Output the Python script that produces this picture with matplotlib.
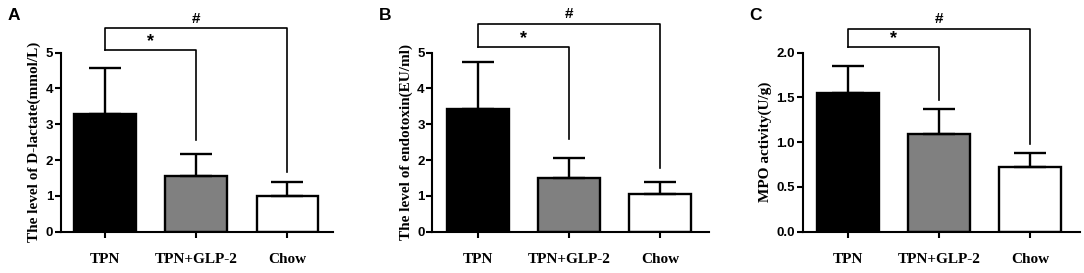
import numpy as np
import matplotlib
matplotlib.use("Agg")
import matplotlib.pyplot as plt

groups = ["TPN", "TPN+GLP-2", "Chow"]
bar_colors = ["black", "#808080", "white"]

# panel A: D-lactate
lactate_mean = [3.28, 1.56, 0.99]
lactate_err = [1.29, 0.60, 0.39]
# panel B: endotoxin
endotoxin_mean = [3.43, 1.49, 1.06]
endotoxin_err = [1.31, 0.58, 0.33]
# panel C: MPO activity
mpo_mean = [1.546, 1.09, 0.726]
mpo_err = [0.30, 0.28, 0.15]

# bracket levels: (hash level, star level, star drop, hash drop)
lactate_brk = [5.67, 5.07, 2.56, 1.67]
endotoxin_brk = [5.79, 5.15, 2.60, 1.77]
mpo_brk = [2.26, 2.06, 1.47, 0.98]

W, H = 1084, 273
fig = plt.figure(figsize=(W / 100, H / 100), dpi=100)

serif = "Liberation Serif"
sans = "Liberation Sans"

panels = [
    ("A", lactate_mean, lactate_err, lactate_brk, "The level of D-lactate(mmol/L)",
     60.7, 333, (-0.49, 2.5), 5, [0, 1, 2, 3, 4, 5], "{:.0f}"),
    ("B", endotoxin_mean, endotoxin_err, endotoxin_brk, "The level of endotoxin(EU/ml)",
     432.3, 709, (-0.5, 2.54), 5, [0, 1, 2, 3, 4, 5], "{:.0f}"),
    ("C", mpo_mean, mpo_err, mpo_brk, "MPO activity(U/g)",
     802.7, 1080, (-0.5, 2.55), 2, [0, 0.5, 1.0, 1.5, 2.0], "{:.1f}"),
]

y0_px, ytop_px = 231.7, 52.5
for letter, mean, err, brk, ylab, lpx, rpx, xl, ytop, yt, fmt in panels:
    ax = fig.add_axes([lpx / W, 1 - y0_px / H, (rpx - lpx) / W, (y0_px - ytop_px) / H])
    x = np.arange(len(groups))
    ax.bar(x, mean, width=0.68, color=bar_colors, edgecolor="black", linewidth=1.7, zorder=2)
    ax.errorbar(x, mean, yerr=[np.zeros(3), err], fmt="none", ecolor="black",
                elinewidth=1.7, capsize=11.5, capthick=1.7, zorder=3)
    ax.set_xlim(*xl)
    ax.set_ylim(0, ytop)
    for s in ["top", "right"]:
        ax.spines[s].set_visible(False)
    for s in ["left", "bottom"]:
        ax.spines[s].set_linewidth(1.5)
    ax.set_yticks(yt)
    ax.set_yticklabels([fmt.format(v) for v in yt], fontfamily=sans, fontweight="bold", fontsize=9.5)
    ax.set_xticks(x)
    ax.set_xticklabels(groups, fontfamily=serif, fontweight="bold", fontsize=11)
    ax.tick_params(axis="both", width=1.5, length=4, direction="out")
    ax.tick_params(axis="x", pad=11)
    ax.tick_params(axis="y", pad=1.5)
    ax.set_ylabel(ylab, fontfamily=serif, fontweight="bold", fontsize=11, labelpad=3)

    hy, sy, sd, hd = brk
    lw = 1.2
    ax.plot([x[0], x[0], x[2], x[2]], [sy, hy, hy, hd], color="black", lw=lw, clip_on=False)
    ax.plot([x[0], x[1], x[1]], [sy, sy, sd], color="black", lw=lw, clip_on=False)
    ax.annotate("#", xy=((x[0] + x[2]) / 2, hy), xytext=(0, 2), textcoords="offset points",
                ha="center", va="bottom", fontfamily=sans, fontweight="bold", fontsize=11,
                annotation_clip=False)
    ax.annotate("*", xy=((x[0] + x[1]) / 2, sy), xytext=(0, 0), textcoords="offset points",
                ha="center", va="bottom", fontfamily=sans, fontweight="bold", fontsize=13,
                annotation_clip=False)

    fig.text((lpx - 53) / W, 1 - 15 / H, letter, fontfamily=sans, fontweight="bold",
             fontsize=12.5, ha="left", va="center")

fig.savefig("out.png", dpi=100)
